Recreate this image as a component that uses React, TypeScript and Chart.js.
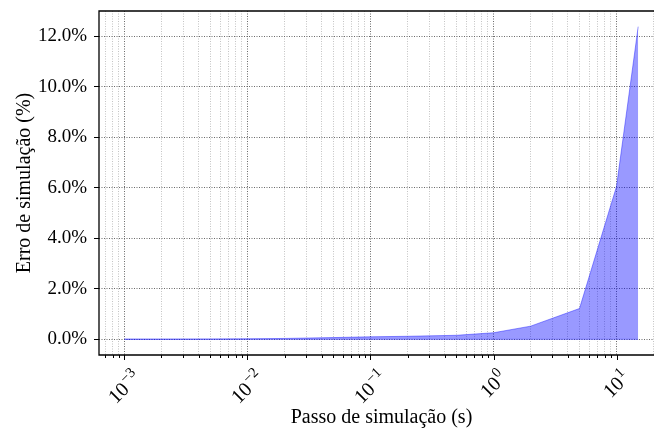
import React, { useEffect, useRef } from 'react';
import { Chart, registerables } from 'chart.js';

Chart.register(...registerables);

// Simulation step (s) and the resulting simulation error (%)
const stepSizes = [0.001, 0.002, 0.005, 0.01, 0.02, 0.05, 0.1, 0.2, 0.5, 1, 2, 5, 10, 15];
const errorPercent = [0.01, 0.01, 0.015, 0.02, 0.035, 0.07, 0.1, 0.12, 0.16, 0.26, 0.52, 1.22, 6.05, 12.37];

// Axis ticks and ranges
const yTickValues = [0, 2, 4, 6, 8, 10, 12];
const xDecades = [0.001, 0.01, 0.1, 1, 10];
const xDecadeExponents = ['\u22123', '\u22122', '\u22121', '0', '1'];
const xMinorMultipliers = [2, 3, 4, 5, 6, 7, 8, 9];
const xLimits = [Math.pow(10, -3.207), Math.pow(10, 1.386)];
const yLimits = [-0.62, 12.99];

const xTitle = 'Passo de simulação (s)';
const yTitle = 'Erro de simulação (%)';

const FONT = '"Liberation Serif", "Times New Roman", serif';
const FILL = 'rgba(0, 0, 255, 0.4)';
const MAJOR_GRID = 'rgba(90, 90, 90, 0.9)';
const MINOR_GRID = 'rgba(190, 190, 190, 0.9)';

const CANVAS_W = 680;
const CANVAS_H = 430;

function buildXTicks() {
  const ticks: { value: number; major: boolean }[] = [];
  const decades = [xDecades[0] / 10, ...xDecades];
  decades.forEach((d) => {
    if (d >= xLimits[0] && d <= xLimits[1]) ticks.push({ value: d, major: true });
    xMinorMultipliers.forEach((m) => {
      const v = +(m * d).toPrecision(6);
      if (v >= xLimits[0] && v <= xLimits[1]) ticks.push({ value: v, major: false });
    });
  });
  return ticks.sort((a, b) => a.value - b.value);
}

// Spines, x tick marks and the 10^n tick labels
const axesDecor = {
  id: 'axesDecor',
  afterDatasetsDraw(chart: any) {
    const { ctx, chartArea: a, scales } = chart;
    const x = scales.x;
    ctx.save();
    ctx.strokeStyle = '#000';
    ctx.lineWidth = 1.3;
    ctx.beginPath();
    ctx.moveTo(a.left, a.bottom);
    ctx.lineTo(a.left, a.top);
    ctx.lineTo(a.right, a.top);
    ctx.lineTo(a.right, a.bottom);
    ctx.closePath();
    ctx.stroke();

    ctx.lineWidth = 1;
    x.ticks.forEach((t: any) => {
      const px = Math.round(x.getPixelForValue(t.value)) + 0.5;
      const len = t.major ? 5 : 3;
      ctx.beginPath();
      ctx.moveTo(px, a.bottom);
      ctx.lineTo(px, a.bottom + len);
      ctx.stroke();
    });

    const baseSize = 20;
    const expSize = 14.5;
    const raise = 8;
    const h = 18;
    ctx.fillStyle = '#000';
    ctx.textBaseline = 'alphabetic';
    ctx.textAlign = 'left';
    xDecades.forEach((v, i) => {
      const px = x.getPixelForValue(v);
      ctx.font = `${baseSize}px ${FONT}`;
      const wb = ctx.measureText('10').width;
      ctx.font = `${expSize}px ${FONT}`;
      const we = ctx.measureText(xDecadeExponents[i]).width;
      const w = wb + we + 1;
      const side = (w + h) / Math.SQRT2;
      ctx.save();
      ctx.translate(px - 2, a.bottom + 11 + side / 2);
      ctx.rotate(-Math.PI / 4);
      ctx.font = `${baseSize}px ${FONT}`;
      ctx.fillText('10', -w / 2, h / 2);
      ctx.font = `${expSize}px ${FONT}`;
      ctx.fillText(xDecadeExponents[i], -w / 2 + wb + 1, h / 2 - raise);
      ctx.restore();
    });
    ctx.restore();
  },
};

export default function App() {
  const ref = useRef<HTMLCanvasElement>(null);

  useEffect(() => {
    const canvas = ref.current;
    if (!canvas) return;
    Chart.defaults.color = '#000';
    const chart = new Chart(canvas, {
      type: 'line',
      data: {
        datasets: [
          {
            label: 'base',
            data: stepSizes.map((s) => ({ x: s, y: 0 })),
            borderColor: FILL,
            borderWidth: 1,
            pointRadius: 0,
            fill: false,
          },
          {
            label: 'erro',
            data: stepSizes.map((s, i) => ({ x: s, y: errorPercent[i] })),
            borderColor: FILL,
            backgroundColor: FILL,
            borderWidth: 1,
            pointRadius: 0,
            tension: 0,
            fill: '-1',
          },
        ],
      },
      options: {
        animation: false,
        responsive: false,
        devicePixelRatio: 1,
        layout: { padding: { left: 0, top: 11, right: CANVAS_W - 664, bottom: 0 } },
        plugins: { legend: { display: false }, tooltip: { enabled: false } },
        scales: {
          x: {
            type: 'logarithmic',
            bounds: 'data',
            min: xLimits[0],
            max: xLimits[1],
            afterBuildTicks: (scale: any) => {
              scale.ticks = buildXTicks();
            },
            afterFit: (scale: any) => {
              scale.height = CANVAS_H - 355;
              scale.paddingLeft = 0;
              scale.paddingRight = 0;
            },
            ticks: { display: false, autoSkip: false },
            grid: {
              drawTicks: false,
              lineWidth: 1,
              color: (c: any) => (c.tick && c.tick.major ? MAJOR_GRID : MINOR_GRID),
              borderDash: [1, 1.5],
            } as any,
            border: { display: false, dash: [1, 1.5] },
            title: {
              display: true,
              text: xTitle,
              font: { family: FONT, size: 20 },
              color: '#000',
              padding: { top: 0, bottom: 0 },
            },
          },
          y: {
            type: 'linear',
            bounds: 'data',
            min: yLimits[0],
            max: yLimits[1],
            afterBuildTicks: (scale: any) => {
              scale.ticks = yTickValues.map((v) => ({ value: v }));
            },
            afterFit: (scale: any) => {
              scale.width = 99;
              scale.paddingTop = 0;
              scale.paddingBottom = 0;
            },
            ticks: {
              autoSkip: false,
              padding: 7,
              color: '#000',
              font: { family: FONT, size: 19 },
              callback: (v: any) => Number(v).toFixed(1) + '%',
            },
            grid: {
              lineWidth: 1,
              color: MAJOR_GRID,
              borderDash: [1, 1.5],
              drawTicks: true,
              tickLength: 5,
              tickColor: '#000',
              tickWidth: 1,
              tickBorderDash: [],
            } as any,
            border: { display: false, dash: [1, 1.5] },
            title: {
              display: true,
              text: yTitle,
              font: { family: FONT, size: 20 },
              color: '#000',
              padding: { top: 13, bottom: 0 },
            },
          },
        },
      },
      plugins: [axesDecor],
    } as any);
    return () => chart.destroy();
  }, []);

  return (
    <div
      style={{
        position: 'fixed',
        left: 0,
        top: 0,
        width: 654,
        height: 430,
        overflow: 'hidden',
        background: '#fff',
      }}
    >
      <canvas
        ref={ref}
        width={CANVAS_W}
        height={CANVAS_H}
        style={{ display: 'block', width: CANVAS_W, height: CANVAS_H }}
      />
    </div>
  );
}
